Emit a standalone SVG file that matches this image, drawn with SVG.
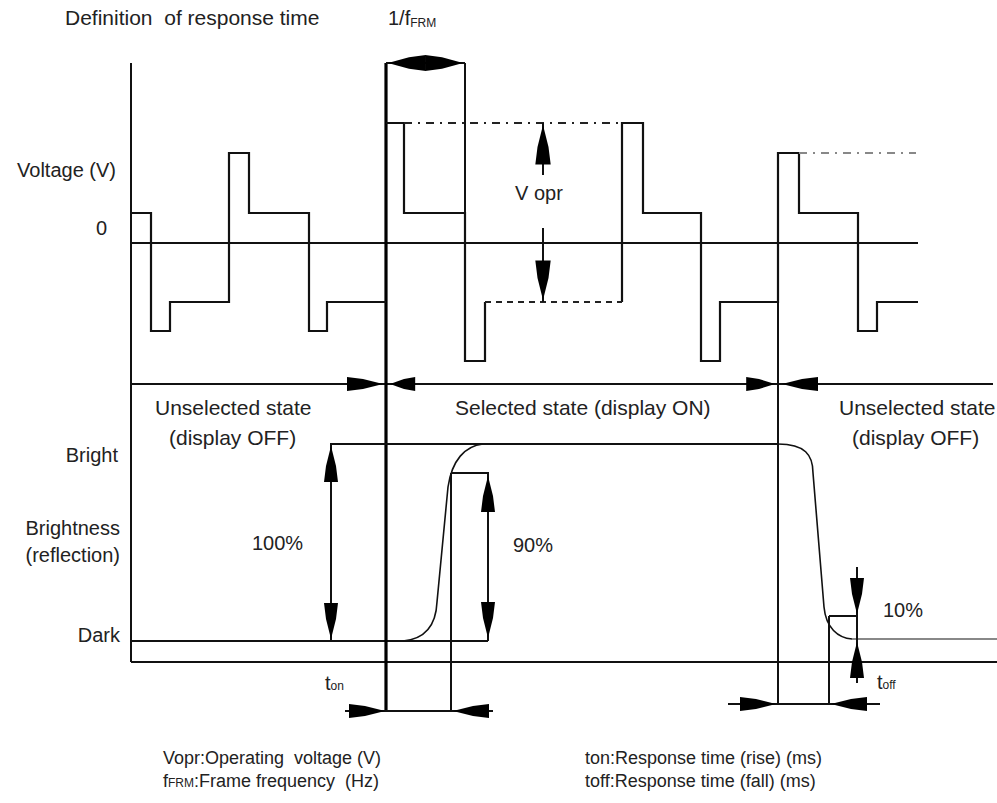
<svg xmlns="http://www.w3.org/2000/svg" xmlns:xlink="http://www.w3.org/1999/xlink" width="997" height="803" viewBox="0 0 997 803">
<style>
text{font-family:"Liberation Sans",Arial,sans-serif;font-size:21px;fill:#222}
.sm{font-size:20px}
.bt{font-size:18px}
.ln{fill:none;stroke:#111;stroke-width:2}
.thick{fill:none;stroke:#000;stroke-width:3.2}
.wave{fill:none;stroke:#111;stroke-width:2.2}
.dd{fill:none;stroke:#222;stroke-width:2;stroke-dasharray:8,6,2,6}
.dsh{fill:none;stroke:#222;stroke-width:2;stroke-dasharray:6,5}
.gd{fill:none;stroke:#888;stroke-width:1.8;stroke-dasharray:8,6,2,6}
.curve{fill:none;stroke:#111;stroke-width:1.6}
.gray{fill:none;stroke:#888;stroke-width:1.8}
.sub{font-size:12px}
</style>
<defs>
<path id="ah" d="M0,0 L-20,-5 L-36,-7 L-36,7 L-20,5 Z" fill="#000"/>
</defs>
<rect width="997" height="803" fill="#fff"/>

<g id="texts">
<text x="65" y="25" xml:space="preserve">Definition  of response time</text>
<text x="388" y="25" class="sm">1/f<tspan class="sub" dy="2">FRM</tspan></text>
<text x="116" y="177" text-anchor="end" class="sm">Voltage (V)</text>
<text x="96" y="235" class="sm">0</text>
<text x="515" y="200" class="sm">V opr</text>
<text x="155" y="415">Unselected state</text>
<text x="169" y="445">(display OFF)</text>
<text x="455" y="415">Selected state (display ON)</text>
<text x="839" y="415">Unselected state</text>
<text x="852" y="445">(display OFF)</text>
<text x="118" y="462" text-anchor="end" class="sm">Bright</text>
<text x="120" y="535" text-anchor="end" class="sm">Brightness</text>
<text x="120" y="562" text-anchor="end" class="sm">(reflection)</text>
<text x="252" y="550" class="sm">100%</text>
<text x="513" y="552" class="sm">90%</text>
<text x="120" y="642" text-anchor="end" class="sm">Dark</text>
<text x="883" y="617" class="sm">10%</text>
<text x="325" y="690" class="sm">t<tspan class="sub">on</tspan></text>
<text x="877" y="689" class="sm">t<tspan class="sub">off</tspan></text>
<text x="163" y="764" class="bt" xml:space="preserve">Vopr:Operating  voltage (V)</text>
<text x="163" y="787" class="bt" xml:space="preserve">f<tspan class="sub">FRM</tspan>:Frame frequency  (Hz)</text>
<text x="585" y="764" class="bt">ton:Response time (rise) (ms)</text>
<text x="585" y="787" class="bt">toff:Response time (fall) (ms)</text>
</g>

<g id="connectors">
<path class="ln" d="M131,63 V662 M131,243 H918 M465,63 V361 M778,153 V704 M131,384 H993 M131,662 H997 M131,641 H488"/>
<path class="thick" d="M386,63 V711"/>
<path class="wave" d="M131,213 H151 V331 H170 V302 H229 V153 H249 V213 H309 V331 H327 V302 H386"/>
<path class="wave" d="M386,123 H404 V213 H465 V361 H485 V302"/>
<path class="wave" d="M622,302 V123 H643 V213 H701 V361 H720 V302 H778 V153 H799 V213 H858 V331 H877 V302 H918"/>
<path class="dd" d="M404,123 H622"/>
<path class="dsh" d="M485,302 H622"/>
<path class="gd" d="M799,153 H916"/>
<path class="ln" d="M386,63 H465"/>
<use xlink:href="#ah" transform="translate(388,63) rotate(180) scale(1.05,1.15)"/>
<use xlink:href="#ah" transform="translate(463,63) scale(1.05,1.15)"/>
<path class="ln" d="M543,123 V175 M543,228 V302"/>
<use xlink:href="#ah" transform="translate(543,125) rotate(-90) scale(1.1,1.1)"/>
<use xlink:href="#ah" transform="translate(543,300) rotate(90) scale(1.1,1.1)"/>
<use xlink:href="#ah" transform="translate(383,384)"/>
<use xlink:href="#ah" transform="translate(390,384) rotate(180) scale(0.7,1)"/>
<use xlink:href="#ah" transform="translate(775,384) scale(0.8,1)"/>
<use xlink:href="#ah" transform="translate(782,384) rotate(180)"/>
<path class="ln" d="M330,444 H778"/>
<path class="curve" d="M403,641 C425,639 436,625 437,602 L448,487 C452,460 465,446 483,444"/>
<path class="curve" d="M778,444 C805,444 813,455 813,473 L824,607 C826,628 838,638 852,639"/>
<path class="gray" d="M852,639 H997"/>
<path class="ln" d="M331,444 V641 M451,473 V711 M451,473 H488 V641"/>
<use xlink:href="#ah" transform="translate(331,446) rotate(-90)"/>
<use xlink:href="#ah" transform="translate(331,639) rotate(90)"/>
<use xlink:href="#ah" transform="translate(488,476) rotate(-90)"/>
<use xlink:href="#ah" transform="translate(488,638) rotate(90)"/>
<path class="ln" d="M345,711 H493"/>
<use xlink:href="#ah" transform="translate(385,711)"/>
<use xlink:href="#ah" transform="translate(453,711) rotate(180)"/>
<path class="ln" d="M728,704 H880 M829,616 H857 M829,616 V704 M857,567 V683"/>
<use xlink:href="#ah" transform="translate(776,704)"/>
<use xlink:href="#ah" transform="translate(831,704) rotate(180)"/>
<use xlink:href="#ah" transform="translate(857,614) rotate(90)"/>
<use xlink:href="#ah" transform="translate(857,642) rotate(-90)"/>
</g>
</svg>
